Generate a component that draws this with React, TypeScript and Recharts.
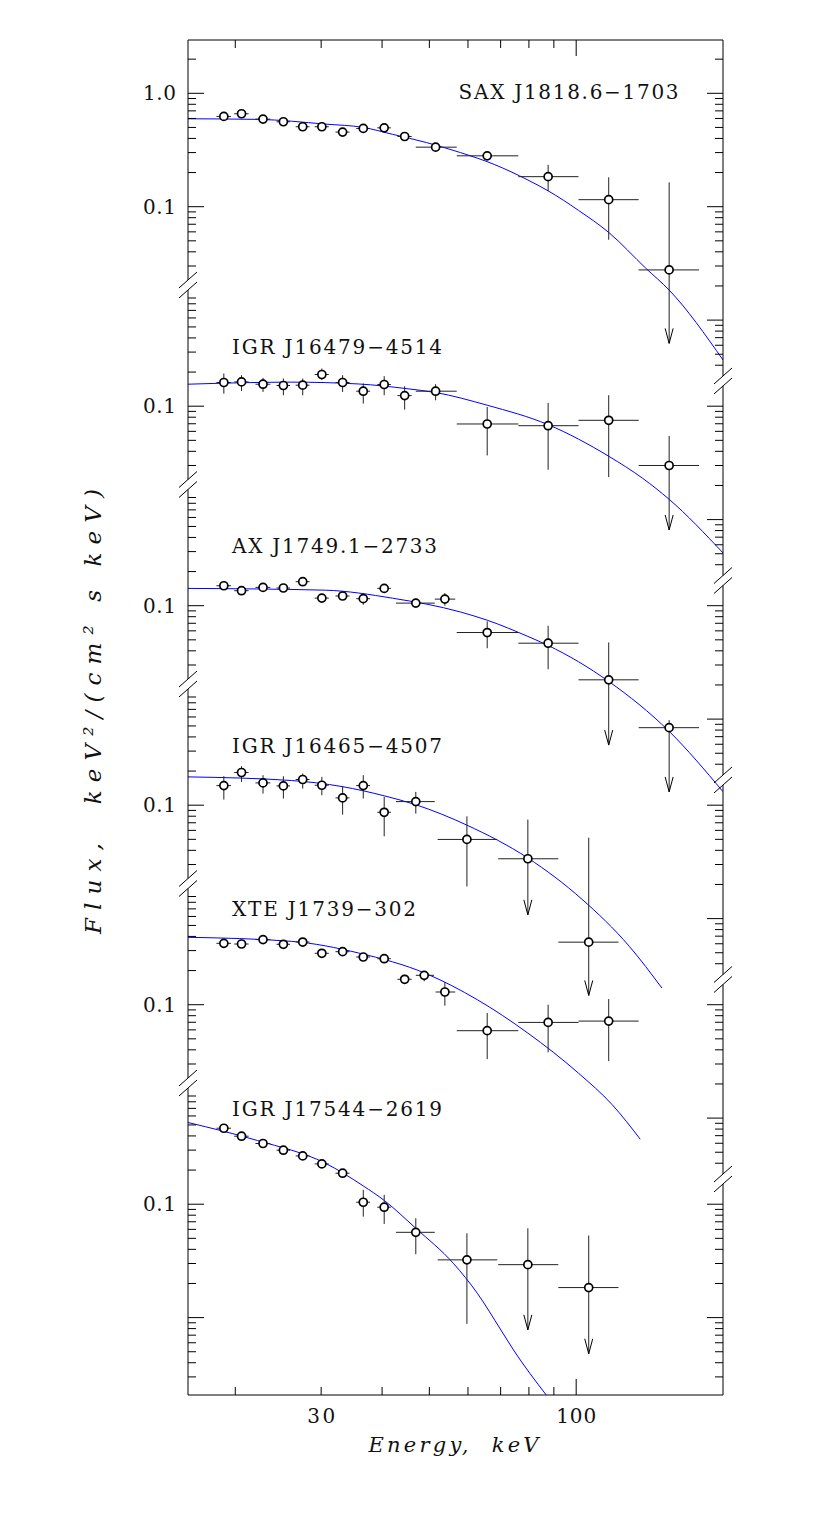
import { ComposedChart, XAxis, YAxis, Line, Scatter, ErrorBar, ReferenceDot } from "recharts";

// one row per spectral bin:
// [energy keV, bin low, bin high, flux, flux low, flux high, upper limit (1)]
type Row = number[];

const saxJ1818Points: Row[] = [
  [18.95, 18.3, 19.6, 0.625, 0.61, 0.64, 0],
  [20.6, 19.9, 21.3, 0.66, 0.645, 0.675, 0],
  [22.8, 22.0, 23.6, 0.592, 0.578, 0.606, 0],
  [25.1, 24.3, 25.9, 0.561, 0.548, 0.574, 0],
  [27.5, 26.6, 28.4, 0.507, 0.495, 0.519, 0],
  [30.1, 29.1, 31.1, 0.507, 0.495, 0.519, 0],
  [33.2, 32.1, 34.3, 0.455, 0.443, 0.467, 0],
  [36.6, 35.4, 37.8, 0.49, 0.477, 0.503, 0],
  [40.4, 39.1, 41.7, 0.496, 0.483, 0.509, 0],
  [44.5, 43.0, 46.0, 0.416, 0.403, 0.429, 0],
  [51.5, 46.9, 56.9, 0.335, 0.322, 0.348, 0],
  [65.7, 56.9, 76.1, 0.281, 0.264, 0.298, 0],
  [87.6, 76.1, 101.1, 0.184, 0.137, 0.234, 0],
  [116.6, 101.1, 134.3, 0.1153, 0.0511, 0.1817, 0],
  [155.1, 134.3, 178.6, 0.0277, 0.00623, 0.164, 1],
];

const igrJ16479Points: Row[] = [
  [18.95, 18.3, 19.6, 0.1618, 0.1291, 0.1943, 0],
  [20.6, 19.9, 21.3, 0.1638, 0.1365, 0.1876, 0],
  [22.8, 22.0, 23.6, 0.1563, 0.1337, 0.1777, 0],
  [25.1, 24.3, 25.9, 0.1522, 0.125, 0.1755, 0],
  [27.5, 26.6, 28.4, 0.1532, 0.125, 0.1755, 0],
  [30.1, 29.1, 31.1, 0.1903, 0.1696, 0.215, 0],
  [33.2, 32.1, 34.3, 0.1618, 0.1337, 0.1876, 0],
  [36.6, 35.4, 37.8, 0.1356, 0.1054, 0.1585, 0],
  [40.4, 39.1, 41.7, 0.1554, 0.125, 0.184, 0],
  [44.5, 43.0, 46.0, 0.124, 0.0933, 0.15, 0],
  [51.5, 46.9, 56.9, 0.1356, 0.1127, 0.1563, 0],
  [65.7, 56.9, 76.1, 0.0697, 0.0368, 0.0984, 0],
  [87.6, 76.1, 101.1, 0.0673, 0.0275, 0.1069, 0],
  [116.6, 101.1, 134.3, 0.0751, 0.0237, 0.125, 0],
  [155.1, 134.3, 178.6, 0.03, 0.0081, 0.0546, 1],
];

const axJ1749Points: Row[] = [
  [18.95, 18.3, 19.6, 0.15, 0.145, 0.155, 0],
  [20.6, 19.9, 21.3, 0.1356, 0.131, 0.14, 0],
  [22.8, 22.0, 23.6, 0.145, 0.14, 0.15, 0],
  [25.1, 24.3, 25.9, 0.1432, 0.138, 0.148, 0],
  [27.5, 26.6, 28.4, 0.1628, 0.157, 0.168, 0],
  [30.1, 29.1, 31.1, 0.1167, 0.112, 0.122, 0],
  [33.2, 32.1, 34.3, 0.1218, 0.116, 0.128, 0],
  [36.6, 35.4, 37.8, 0.1153, 0.102, 0.129, 0],
  [40.4, 39.1, 41.7, 0.1421, 0.137, 0.147, 0],
  [46.9, 42.7, 51.3, 0.1054, 0.101, 0.11, 0],
  [53.8, 51.3, 56.5, 0.1143, 0.1, 0.1294, 0],
  [65.7, 56.9, 76.1, 0.058, 0.0422, 0.0728, 0],
  [87.6, 76.1, 101.1, 0.0467, 0.0275, 0.0665, 0],
  [116.6, 101.1, 134.3, 0.0222, 0.0059, 0.0474, 1],
  [155.1, 134.3, 178.6, 0.0084, 0.00228, 0.0098, 1],
];

const igrJ16465Points: Row[] = [
  [18.95, 18.3, 19.6, 0.1489, 0.1121, 0.1802, 0],
  [20.6, 19.9, 21.3, 0.1943, 0.1605, 0.2208, 0],
  [22.8, 22.0, 23.6, 0.1573, 0.1266, 0.184, 0],
  [25.1, 24.3, 25.9, 0.148, 0.1146, 0.18, 0],
  [27.5, 26.6, 28.4, 0.1685, 0.1401, 0.1904, 0],
  [30.1, 29.1, 31.1, 0.15, 0.1225, 0.1777, 0],
  [33.2, 32.1, 34.3, 0.116, 0.0826, 0.1471, 0],
  [36.6, 35.4, 37.8, 0.1489, 0.1146, 0.184, 0],
  [40.4, 39.1, 41.7, 0.0866, 0.0532, 0.1184, 0],
  [46.9, 42.7, 51.3, 0.1076, 0.0843, 0.131, 0],
  [59.7, 52.0, 68.9, 0.0499, 0.0192, 0.0798, 0],
  [79.6, 69.2, 91.9, 0.0337, 0.0108, 0.0747, 1],
  [106.1, 91.9, 122.1, 0.0062, 0.0021, 0.0517, 1],
];

const xteJ1739Points: Row[] = [
  [18.95, 18.3, 19.6, 0.3478, 0.34, 0.356, 0],
  [20.6, 19.9, 21.3, 0.343, 0.335, 0.351, 0],
  [22.8, 22.0, 23.6, 0.375, 0.367, 0.383, 0],
  [25.1, 24.3, 25.9, 0.341, 0.333, 0.349, 0],
  [27.5, 26.6, 28.4, 0.357, 0.349, 0.365, 0],
  [30.1, 29.1, 31.1, 0.284, 0.277, 0.291, 0],
  [33.2, 32.1, 34.3, 0.2934, 0.286, 0.301, 0],
  [36.6, 35.4, 37.8, 0.2634, 0.256, 0.271, 0],
  [40.4, 39.1, 41.7, 0.2544, 0.247, 0.262, 0],
  [44.5, 43.0, 46.0, 0.1675, 0.155, 0.184, 0],
  [48.8, 46.9, 51.1, 0.1816, 0.1608, 0.197, 0],
  [53.8, 51.5, 56.5, 0.1294, 0.098, 0.1576, 0],
  [65.7, 56.9, 76.1, 0.059, 0.0331, 0.0845, 0],
  [87.6, 76.1, 101.1, 0.0698, 0.038, 0.1, 0],
  [116.6, 101.1, 134.3, 0.0717, 0.0318, 0.1123, 0],
];

const igrJ17544Points: Row[] = [
  [18.95, 18.3, 19.6, 0.4677, 0.457, 0.478, 0],
  [20.6, 19.9, 21.3, 0.3978, 0.389, 0.407, 0],
  [22.8, 22.0, 23.6, 0.343, 0.335, 0.351, 0],
  [25.1, 24.3, 25.9, 0.2993, 0.292, 0.307, 0],
  [27.5, 26.6, 28.4, 0.2667, 0.26, 0.274, 0],
  [30.1, 29.1, 31.1, 0.2266, 0.22, 0.233, 0],
  [33.2, 32.1, 34.3, 0.1876, 0.175, 0.2, 0],
  [36.6, 35.4, 37.8, 0.1041, 0.0777, 0.1337, 0],
  [40.4, 39.1, 41.7, 0.0941, 0.067, 0.1208, 0],
  [46.9, 42.7, 51.3, 0.0565, 0.0362, 0.0751, 0],
  [59.7, 52.0, 68.9, 0.0323, 0.0088, 0.0554, 0],
  [79.6, 69.2, 91.9, 0.0293, 0.0078, 0.0613, 1],
  [106.1, 91.9, 122.1, 0.0184, 0.0048, 0.0529, 1],
];

// model curves (blue): [energy keV, flux]
const saxJ1818Model = [
  [16, 0.596], [22.2, 0.589], [30.6, 0.535], [36.6, 0.5], [42.0, 0.435], [49.3, 0.368],
  [57.9, 0.3], [67.9, 0.236], [79.6, 0.172], [87.6, 0.138], [101.1, 0.0928], [116.6, 0.0593],
  [139.1, 0.0285], [155.1, 0.0184], [200, 0.00445],
];
const igrJ16479Model = [
  [16, 0.1563], [26.1, 0.163], [35.8, 0.157], [44.8, 0.143], [51.5, 0.132], [65.7, 0.102],
  [87.6, 0.0687], [116.6, 0.0362], [136.9, 0.0231], [155.1, 0.0151], [200, 0.00508],
];
const axJ1749Model = [
  [16, 0.1421], [30.6, 0.137], [42.0, 0.1165], [57.9, 0.088], [65.7, 0.0745], [79.6, 0.0536],
  [87.6, 0.0446], [116.6, 0.0215], [155.1, 0.0078], [200, 0.00229],
];
const igrJ16465Model = [
  [16, 0.1777], [26.1, 0.165], [33.1, 0.146], [40.4, 0.121], [46.9, 0.101], [59.7, 0.0667],
  [79.6, 0.0342], [102.8, 0.0148], [128.5, 0.0057], [149.9, 0.00244],
];
const xteJ1739Model = [
  [16, 0.393], [26.1, 0.362], [35.8, 0.2857], [49.3, 0.1876], [62.7, 0.1107], [79.6, 0.0562],
  [101.1, 0.0249], [118.6, 0.0131], [135.3, 0.00652],
];
const igrJ17544Model = [
  [16, 0.5253], [22.2, 0.3646], [30.6, 0.2298], [36.6, 0.145], [40.4, 0.108], [46.9, 0.0613],
  [56.0, 0.0301], [62.7, 0.0164], [70.1, 0.00777], [74.4, 0.00518], [86.8, 0.00208],
];

const sourceNames = [
  "SAX J1818.6−1703",
  "IGR J16479−4514",
  "AX J1749.1−2733",
  "IGR J16465−4507",
  "XTE J1739−302",
  "IGR J17544−2619",
];
// start of each name (baseline), [energy, flux] in its own panel
const nameAnchors = [
  [57.4, 0.896], [19.7, 0.288], [19.7, 0.292], [19.7, 0.29], [19.7, 0.611], [19.7, 0.602],
];

const xTicks = [20, 30, 40, 50, 60, 70, 80, 90, 100];
const xTickLabels: Record<number, string> = { 30: "30", 100: "100" };
const yTickLabels: Record<number, string> = { 0: "1.0", [-1]: "0.1" };

// layout of the stacked panels, in decades of flux
const PANEL_SHIFT = 1.7593;
const Y_TOP = 0.47;
const Y_BOTTOM = -11.479;
const LEFT_CUT = -1.6905;
const RIGHT_CUT = -2.537;

const FONT = '"DejaVu Serif", "Liberation Serif", serif';
const INK = "#111";
const NAME_WIDTHS = [220, 210, 205, 210, 184, 210];

const spectra = [saxJ1818Points, igrJ16479Points, axJ1749Points, igrJ16465Points, xteJ1739Points, igrJ17544Points];
const models = [saxJ1818Model, igrJ16479Model, axJ1749Model, igrJ16465Model, xteJ1739Model, igrJ17544Model];

const toV = (flux: number, k: number) => Math.log10(flux) - k * PANEL_SHIFT;

const pointData = (rows: Row[], k: number) =>
  rows.map(([e, elo, ehi, f, flo, fhi]) => ({
    x: e,
    y: toV(f, k),
    ex: [e - elo, ehi - e],
    ey: [Math.log10(f / flo), Math.log10(fhi / f)],
  }));

const arrowData = (rows: Row[], k: number) =>
  rows.filter((r) => r[6] === 1).map((r) => ({ x: r[0], y: toV(r[4], k) }));

const modelData = (pts: number[][], k: number) => pts.map(([e, f]) => ({ x: e, y: toV(f, k) }));

type TickKind = "major" | "minor" | "cut";

function buildTicks(cut: number) {
  const kinds = new Map<number, TickKind>();
  const labels = new Map<number, string>();
  const gap = 0.08;
  for (let k = 0; k < 6; k++) {
    const top = k === 0 ? Y_TOP : cut - (k - 1) * PANEL_SHIFT - gap;
    const bottom = k === 5 ? Y_BOTTOM : cut - k * PANEL_SHIFT + gap;
    for (let d = -4; d <= 0; d++) {
      for (let m = 1; m <= 9; m++) {
        const v = Math.log10(m) + d - k * PANEL_SHIFT;
        if (v < top && v > bottom) {
          kinds.set(v, m === 1 ? "major" : "minor");
          if (m === 1 && yTickLabels[d]) labels.set(v, yTickLabels[d]);
        }
      }
    }
    if (k < 5) kinds.set(cut - k * PANEL_SHIFT, "cut");
  }
  return { kinds, labels, values: [...kinds.keys()] };
}

const leftTicks = buildTicks(LEFT_CUT);
const rightTicks = buildTicks(RIGHT_CUT);

const CutMark = ({ x, y }: { x: number; y: number }) => (
  <g>
    <line x1={x} y1={y - 5} x2={x} y2={y + 5} stroke="#fff" strokeWidth={3} />
    <line x1={x - 9} y1={y + 3} x2={x + 9} y2={y - 13} stroke="#000" strokeWidth={1} />
    <line x1={x - 9} y1={y + 13} x2={x + 9} y2={y - 3} stroke="#000" strokeWidth={1} />
  </g>
);

const LeftTick = (p: any) => {
  const kind = leftTicks.kinds.get(p.payload.value);
  if (!kind) return null;
  if (kind === "cut") return <CutMark x={p.x} y={p.y} />;
  const len = kind === "major" ? 16 : 8;
  const label = leftTicks.labels.get(p.payload.value);
  return (
    <g>
      <line x1={p.x} y1={p.y} x2={p.x + len} y2={p.y} stroke="#000" strokeWidth={1} />
      {label && (
        <text x={p.x - 12} y={p.y + 7} textAnchor="end" textLength={33} lengthAdjust="spacing"
          style={{ fontFamily: FONT, fontSize: 20, fill: INK }}>
          {label}
        </text>
      )}
    </g>
  );
};

const RightTick = (p: any) => {
  const kind = rightTicks.kinds.get(p.payload.value);
  if (!kind) return null;
  if (kind === "cut") return <CutMark x={p.x} y={p.y} />;
  const len = kind === "major" ? 16 : 8;
  return <line x1={p.x} y1={p.y} x2={p.x - len} y2={p.y} stroke="#000" strokeWidth={1} />;
};

const BottomTick = (p: any) => {
  const v = p.payload.value;
  const len = v === 100 ? 16 : 8;
  const label = xTickLabels[v];
  return (
    <g>
      <line x1={p.x} y1={p.y} x2={p.x} y2={p.y - len} stroke="#000" strokeWidth={1} />
      {label && (
        <text x={p.x} y={p.y + 28} textAnchor="middle" textLength={label.length === 3 ? 40 : 28}
          lengthAdjust="spacing" style={{ fontFamily: FONT, fontSize: 20, fill: INK }}>
          {label}
        </text>
      )}
    </g>
  );
};

const TopTick = (p: any) => {
  const len = p.payload.value === 100 ? 16 : 8;
  return <line x1={p.x} y1={p.y} x2={p.x} y2={p.y + len} stroke="#000" strokeWidth={1} />;
};

const XTitle = (p: any) => {
  const vb = p.viewBox;
  return (
    <text x={vb.x + vb.width / 2 - 2} y={vb.y + 57} textAnchor="middle" textLength={170} lengthAdjust="spacing"
      style={{ fontFamily: FONT, fontSize: 21, fontStyle: "italic", fill: INK, whiteSpace: "pre" }}>
      Energy,  keV
    </text>
  );
};

const YTitle = (p: any) => {
  const vb = p.viewBox;
  const cx = vb.x - 27;
  const cy = vb.y + vb.height / 2 - 6;
  return (
    <text x={cx} y={cy} transform={`rotate(-90 ${cx} ${cy})`} textAnchor="middle" textLength={445}
      lengthAdjust="spacing"
      style={{ fontFamily: FONT, fontSize: 23, fontStyle: "italic", fill: INK, whiteSpace: "pre" }}>
      Flux,  keV²/(cm² s keV)
    </text>
  );
};

const OpenCircle = (p: any) => (
  <circle cx={p.cx} cy={p.cy} r={4} fill="#fff" stroke="#000" strokeWidth={1.7} />
);

const ArrowHead = (p: any) => (
  <polyline points={`${p.cx - 4},${p.cy - 15} ${p.cx},${p.cy} ${p.cx + 4},${p.cy - 15}`}
    fill="none" stroke="#000" strokeWidth={1} />
);

export default function App() {
  return (
    <ComposedChart width={806} height={1500} margin={{ top: 30, right: 71, bottom: 73, left: 120 }}>
      <XAxis xAxisId="b" dataKey="x" type="number" scale="log" domain={[16, 200]} allowDataOverflow
        ticks={xTicks} interval={0} tickSize={0} tickMargin={0} tickLine={false} height={40}
        axisLine={{ stroke: "#000" }} tick={<BottomTick />} label={{ content: XTitle }} />
      <XAxis xAxisId="t" orientation="top" dataKey="x" type="number" scale="log" domain={[16, 200]} allowDataOverflow
        ticks={xTicks} interval={0} tickSize={0} tickMargin={0} tickLine={false} height={2}
        axisLine={{ stroke: "#000" }} tick={<TopTick />} />
      <YAxis yAxisId="l" dataKey="y" type="number" domain={[Y_BOTTOM, Y_TOP]} allowDataOverflow
        ticks={leftTicks.values} interval={0} tickSize={0} tickMargin={0} tickLine={false} width={60}
        axisLine={{ stroke: "#000" }} tick={<LeftTick />} label={{ content: YTitle }} />
      <YAxis yAxisId="r" orientation="right" dataKey="y" type="number" domain={[Y_BOTTOM, Y_TOP]} allowDataOverflow
        ticks={rightTicks.values} interval={0} tickSize={0} tickMargin={0} tickLine={false} width={20}
        axisLine={{ stroke: "#000" }} tick={<RightTick />} />

      {models.map((m, k) => (
        <Line key={`model-${k}`} data={modelData(m, k)} dataKey="y" xAxisId="b" yAxisId="l"
          type="monotone" stroke="#0000ff" strokeWidth={1} dot={false} isAnimationActive={false} />
      ))}

      {spectra.map((rows, k) => (
        <Scatter key={`ul-${k}`} data={arrowData(rows, k)} dataKey="y" xAxisId="b" yAxisId="l"
          shape={ArrowHead} isAnimationActive={false} />
      ))}

      {spectra.map((rows, k) => (
        <Scatter key={`pts-${k}`} data={pointData(rows, k)} dataKey="y" xAxisId="b" yAxisId="l"
          shape={OpenCircle} isAnimationActive={false}>
          <ErrorBar dataKey="ex" direction="x" width={0} stroke="#222" strokeWidth={1} />
          <ErrorBar dataKey="ey" direction="y" width={0} stroke="#222" strokeWidth={1} />
        </Scatter>
      ))}

      {sourceNames.map((name, k) => (
        <ReferenceDot key={`name-${k}`} x={nameAnchors[k][0]} y={toV(nameAnchors[k][1], k)}
          xAxisId="b" yAxisId="l" r={0} ifOverflow="visible"
          shape={(p: any) => (
            <text x={p.cx} y={p.cy} textLength={NAME_WIDTHS[k]} lengthAdjust="spacing"
              style={{ fontFamily: FONT, fontSize: 20, fill: INK }}>
              {name}
            </text>
          )} />
      ))}
    </ComposedChart>
  );
}
